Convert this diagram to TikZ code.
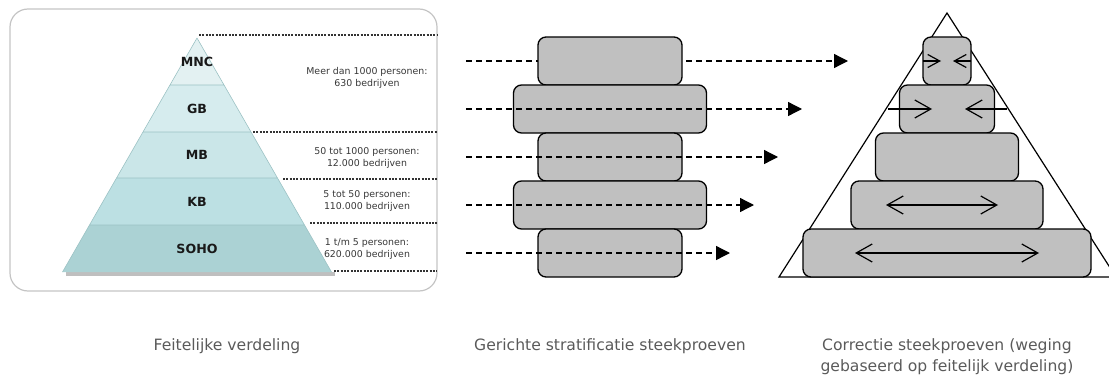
\documentclass[tikz,border=0pt]{standalone}
\usepackage{fontspec}
\setmainfont{DejaVu Sans}
\usetikzlibrary{arrows.meta}
\definecolor{bandA}{HTML}{E3F1F2}
\definecolor{bandB}{HTML}{D6ECEE}
\definecolor{bandC}{HTML}{CAE6E8}
\definecolor{bandD}{HTML}{BCE0E3}
\definecolor{bandE}{HTML}{ABD2D4}
\definecolor{bandline}{HTML}{9CC2C4}
\definecolor{framegray}{HTML}{C4C4C4}
\definecolor{boxgray}{HTML}{C0C0C0}
\definecolor{captiongray}{HTML}{5A5A5A}
\definecolor{notegray}{HTML}{383838}
\tikzset{
  layer/.style={font=\bfseries\fontsize{12.6}{14}\selectfont, text=black!90},
  note/.style={font=\fontsize{9.4}{12}\selectfont, text=notegray, align=center},
  caption/.style={font=\fontsize{15.6}{21}\selectfont, text=captiongray, align=center},
  levelline/.style={line width=2.1pt, black!80, dash pattern=on 2pt off 1.3pt},
  stratbox/.style={draw=black, fill=boxgray, line width=1.3pt, rounded corners=8pt,
    inner sep=0pt, outer sep=0pt, minimum height=48pt},
  flow/.style={line width=1.3pt, dash pattern=on 6pt off 4pt,
    -{Triangle[length=14pt,width=14pt]}},
  shrink/.style={line width=1.2pt, -{Straight Barb[length=12pt,width=13pt]}},
  shrinkwide/.style={line width=1.2pt, -{Straight Barb[length=16pt,width=18pt]}},
  spread/.style={line width=1.2pt, {Straight Barb[length=16pt,width=18pt]}-{Straight Barb[length=16pt,width=18pt]}},
}
\begin{document}
\begin{tikzpicture}[x=1pt,y=-1pt]
\useasboundingbox (0,0) rectangle (1109,380);

% ---------- left panel: actual distribution ----------
\draw[framegray, line width=1.2pt, rounded corners=18pt] (10,9) rectangle (437,291);
% base shadow
\fill[black!25] (65.5,272) -- (334.5,272) -- (334.5,276) -- (65.5,276) -- cycle;
% pyramid bands, top to bottom
\fill[bandA] (197,38) -- (224,85) -- (170,85) -- cycle;
\fill[bandB] (170,85) -- (224,85) -- (251,132) -- (143,132) -- cycle;
\fill[bandC] (143,132) -- (251,132) -- (277.5,178) -- (116.5,178) -- cycle;
\fill[bandD] (116.5,178) -- (277.5,178) -- (304.5,225) -- (89.5,225) -- cycle;
\fill[bandE] (89.5,225) -- (304.5,225) -- (331.5,272) -- (62.5,272) -- cycle;
\draw[bandline, line width=0.6pt]
  (170,85) -- (224,85) (143,132) -- (251,132) (116.5,178) -- (277.5,178)
  (89.5,225) -- (304.5,225) (197,38) -- (331.5,272) (197,38) -- (62.5,272);

\node[layer] (mnc)  at (197,62)  {MNC};
\node[layer] (gb)   at (197,109) {GB};
\node[layer] (mb)   at (197,155) {MB};
\node[layer] (kb)   at (197,202) {KB};
\node[layer] (soho) at (197,249) {SOHO};

% size boundaries
\draw[levelline] (199,35)  -- (437,35);
\draw[levelline] (253,132) -- (437,132);
\draw[levelline] (283,179) -- (437,179);
\draw[levelline] (310,223) -- (437,223);
\draw[levelline] (334,271) -- (437,271);

\node[note] (n1) at (367,78)  {Meer dan 1000 personen:\\630 bedrijven};
\node[note] (n2) at (367,158) {50 tot 1000 personen:\\12.000 bedrijven};
\node[note] (n3) at (367,201) {5 tot 50 personen:\\110.000 bedrijven};
\node[note] (n4) at (367,249) {1 t/m 5 personen:\\620.000 bedrijven};

% ---------- middle panel: stratified sampling ----------
\coordinate (s1) at (466,61);  \coordinate (e1) at (848,61);
\coordinate (s2) at (466,109); \coordinate (e2) at (802,109);
\coordinate (s3) at (466,157); \coordinate (e3) at (778,157);
\coordinate (s4) at (466,205); \coordinate (e4) at (754,205);
\coordinate (s5) at (466,253); \coordinate (e5) at (730,253);

\draw[flow] (s1) -- (e1);
\node[stratbox, minimum width=144pt] (m1) at (610,61)  {};
\node[stratbox, minimum width=193pt] (m2) at (610,109) {};
\node[stratbox, minimum width=144pt] (m3) at (610,157) {};
\node[stratbox, minimum width=193pt] (m4) at (610,205) {};
\node[stratbox, minimum width=144pt] (m5) at (610,253) {};
\draw[flow] (s2) -- (e2);
\draw[flow] (s3) -- (e3);
\draw[flow] (s4) -- (e4);
\draw[flow] (s5) -- (e5);

% ---------- right panel: weighted correction ----------
\draw[line width=1.2pt, fill=white, line join=miter] (947,13) -- (1116,277) -- (779,277) -- cycle;
\node[stratbox, minimum width=48pt]  (r1) at (947,61)  {};
\node[stratbox, minimum width=95pt]  (r2) at (947,109) {};
\node[stratbox, minimum width=143pt] (r3) at (947,157) {};
\node[stratbox, minimum width=192pt] (r4) at (947,205) {};
\node[stratbox, minimum width=288pt] (r5) at (947,253) {};

\coordinate (p1l) at (941,61);  \coordinate (p1r) at (953,61);
\coordinate (q2l) at (888,109); \coordinate (q2r) at (1007,109);
\coordinate (p2l) at (932,109); \coordinate (p2r) at (965,109);
\coordinate (q4l) at (886,205); \coordinate (q4r) at (998,205);
\coordinate (q5l) at (855,253); \coordinate (q5r) at (1039,253);

\draw[shrink] (r1.west) -- (p1l);
\draw[shrink] (r1.east) -- (p1r);
\draw[shrinkwide] (q2l) -- (p2l);
\draw[shrinkwide] (q2r) -- (p2r);
\draw[spread] (q4l) -- (q4r);
\draw[spread] (q5l) -- (q5r);

% ---------- captions ----------
\node[caption] (c1) at (227,346) {Feitelijke verdeling};
\node[caption] (c2) at (610,346) {Gerichte stratificatie steekproeven};
\node[caption] (c3) at (947,357) {Correctie steekproeven (weging\\gebaseerd op feitelijk verdeling)};
\end{tikzpicture}
\end{document}
